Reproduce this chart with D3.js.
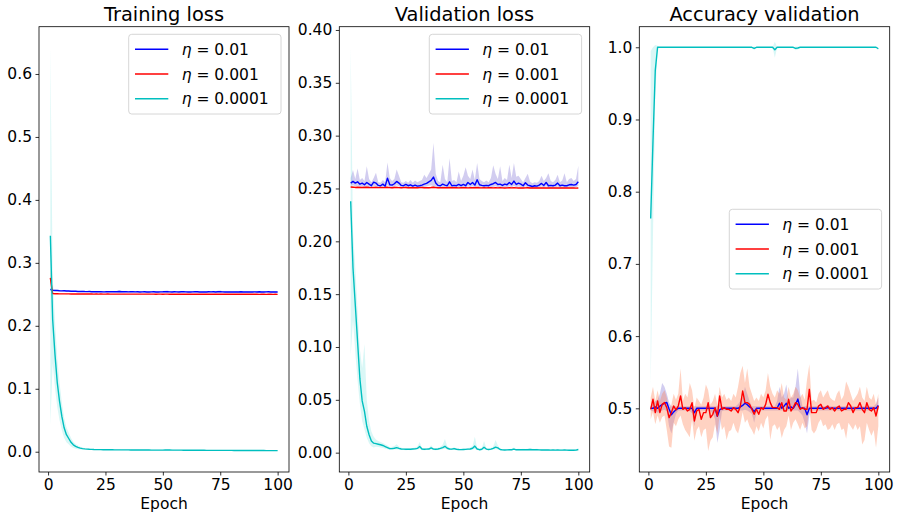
<!DOCTYPE html>
<html>
<head>
<meta charset="utf-8">
<script src="https://cdn.jsdelivr.net/npm/d3@7"></script>
<style>
  body { margin: 0; background: #fff; }
  text { font-family: "DejaVu Sans", sans-serif; fill: #000; }
</style>
</head>
<body>
<div id="chart"></div>
<script>
// epochs on the x axis
let epochs = d3.range(1, 101);
let xTicks = [0, 25, 50, 75, 100];
let labels = ['0.01', '0.001', '0.0001'];

// ---------- Training loss ----------
let trainBlue = [0.2580,0.2565,0.2562,0.2560,0.2557,0.2555,0.2556,0.2553,0.2552,0.2550,
  0.2548,0.2549,0.2546,0.2545,0.2547,0.2544,0.2543,0.2545,0.2542,0.2541,
  0.2543,0.2540,0.2541,0.2539,0.2540,0.2542,0.2541,0.2543,0.2540,0.2542,
  0.2545,0.2541,0.2540,0.2542,0.2539,0.2540,0.2541,0.2539,0.2540,0.2538,
  0.2539,0.2540,0.2538,0.2537,0.2539,0.2541,0.2538,0.2537,0.2539,0.2540,
  0.2543,0.2541,0.2539,0.2538,0.2540,0.2539,0.2538,0.2540,0.2541,0.2539,
  0.2538,0.2537,0.2539,0.2541,0.2540,0.2538,0.2537,0.2539,0.2538,0.2540,
  0.2539,0.2541,0.2538,0.2540,0.2542,0.2539,0.2538,0.2537,0.2539,0.2538,
  0.2537,0.2539,0.2538,0.2540,0.2538,0.2537,0.2539,0.2538,0.2537,0.2539,
  0.2538,0.2540,0.2538,0.2537,0.2539,0.2540,0.2538,0.2539,0.2537,0.2538];
let trainBlueSd = [0.0020,0.0012,0.0011,0.0010,0.0010,0.0009,0.0010,0.0009,0.0008,0.0008,
  0.0008,0.0009,0.0008,0.0008,0.0009,0.0008,0.0008,0.0009,0.0008,0.0008,
  0.0009,0.0008,0.0008,0.0008,0.0009,0.0009,0.0008,0.0010,0.0009,0.0011,
  0.0018,0.0014,0.0009,0.0009,0.0008,0.0009,0.0008,0.0008,0.0009,0.0008,
  0.0008,0.0009,0.0008,0.0008,0.0009,0.0010,0.0008,0.0008,0.0009,0.0010,
  0.0013,0.0019,0.0010,0.0008,0.0009,0.0008,0.0008,0.0009,0.0010,0.0008,
  0.0008,0.0008,0.0009,0.0010,0.0009,0.0008,0.0008,0.0009,0.0008,0.0010,
  0.0012,0.0013,0.0009,0.0015,0.0020,0.0011,0.0008,0.0008,0.0009,0.0008,
  0.0008,0.0009,0.0008,0.0009,0.0008,0.0008,0.0009,0.0008,0.0008,0.0009,
  0.0008,0.0009,0.0008,0.0008,0.0009,0.0009,0.0008,0.0009,0.0008,0.0008];
let trainRed = [0.2760,0.2512,0.2510,0.2509,0.2508,0.2508,0.2507,0.2507,0.2507,0.2506,
  0.2506,0.2506,0.2506,0.2505,0.2506,0.2505,0.2505,0.2505,0.2505,0.2504,
  0.2505,0.2504,0.2505,0.2504,0.2504,0.2505,0.2504,0.2504,0.2503,0.2504,
  0.2504,0.2503,0.2504,0.2504,0.2503,0.2504,0.2503,0.2504,0.2503,0.2503,
  0.2504,0.2503,0.2503,0.2504,0.2503,0.2503,0.2502,0.2503,0.2503,0.2502,
  0.2503,0.2503,0.2502,0.2503,0.2502,0.2503,0.2502,0.2502,0.2503,0.2502,
  0.2502,0.2503,0.2502,0.2502,0.2502,0.2503,0.2502,0.2502,0.2501,0.2502,
  0.2502,0.2501,0.2502,0.2502,0.2501,0.2502,0.2501,0.2502,0.2501,0.2501,
  0.2502,0.2501,0.2501,0.2502,0.2501,0.2501,0.2501,0.2502,0.2501,0.2501,
  0.2501,0.2500,0.2501,0.2501,0.2500,0.2501,0.2501,0.2500,0.2501,0.2500];
let trainRedSd = [0.0140,0.0006,0.0005,0.0004,0.0004,0.0004,0.0003,0.0004,0.0003,0.0003,
  0.0003,0.0004,0.0003,0.0003,0.0003,0.0004,0.0003,0.0003,0.0003,0.0003,
  0.0004,0.0003,0.0003,0.0003,0.0003,0.0004,0.0003,0.0003,0.0003,0.0003,
  0.0003,0.0003,0.0004,0.0003,0.0003,0.0003,0.0003,0.0003,0.0004,0.0003,
  0.0003,0.0003,0.0003,0.0004,0.0003,0.0003,0.0003,0.0003,0.0003,0.0004,
  0.0003,0.0003,0.0003,0.0003,0.0003,0.0004,0.0003,0.0003,0.0003,0.0003,
  0.0003,0.0003,0.0004,0.0003,0.0003,0.0003,0.0003,0.0003,0.0003,0.0004,
  0.0003,0.0003,0.0003,0.0003,0.0003,0.0003,0.0004,0.0003,0.0003,0.0003,
  0.0003,0.0003,0.0003,0.0004,0.0003,0.0003,0.0003,0.0003,0.0003,0.0003,
  0.0004,0.0003,0.0003,0.0003,0.0003,0.0003,0.0003,0.0004,0.0003,0.0003];
let trainCyan = [0.3430,0.2100,0.1550,0.1100,0.0800,0.0560,0.0380,0.0270,0.0210,0.0150,
  0.0110,0.0085,0.0068,0.0057,0.0050,0.0045,0.0042,0.0039,0.0037,0.0035,
  0.0034,0.0033,0.0033,0.0032,0.0032,0.0031,0.0031,0.0031,0.0030,0.0030,
  0.0030,0.0029,0.0029,0.0029,0.0029,0.0028,0.0028,0.0028,0.0028,0.0027,
  0.0027,0.0027,0.0027,0.0027,0.0026,0.0026,0.0026,0.0026,0.0026,0.0026,
  0.0027,0.0028,0.0027,0.0026,0.0025,0.0025,0.0025,0.0025,0.0024,0.0024,
  0.0024,0.0024,0.0024,0.0023,0.0023,0.0023,0.0023,0.0023,0.0022,0.0022,
  0.0022,0.0022,0.0022,0.0022,0.0021,0.0021,0.0021,0.0021,0.0021,0.0021,
  0.0020,0.0020,0.0020,0.0020,0.0020,0.0020,0.0020,0.0019,0.0019,0.0019,
  0.0019,0.0019,0.0019,0.0019,0.0018,0.0018,0.0018,0.0018,0.0018,0.0018];
let trainCyanSd = [0.3000,0.0700,0.0530,0.0390,0.0300,0.0220,0.0160,0.0120,0.0090,0.0070,
  0.0050,0.0038,0.0030,0.0022,0.0016,0.0012,0.0009,0.0007,0.0006,0.0005,
  0.0005,0.0004,0.0004,0.0004,0.0004,0.0004,0.0004,0.0004,0.0004,0.0004,
  0.0004,0.0004,0.0004,0.0004,0.0004,0.0004,0.0004,0.0004,0.0004,0.0004,
  0.0004,0.0004,0.0004,0.0004,0.0004,0.0004,0.0004,0.0004,0.0004,0.0004,
  0.0005,0.0006,0.0005,0.0004,0.0004,0.0004,0.0004,0.0004,0.0003,0.0003,
  0.0003,0.0003,0.0003,0.0003,0.0003,0.0003,0.0003,0.0003,0.0003,0.0003,
  0.0003,0.0003,0.0003,0.0003,0.0003,0.0003,0.0003,0.0003,0.0003,0.0003,
  0.0003,0.0003,0.0003,0.0003,0.0003,0.0003,0.0003,0.0003,0.0003,0.0003,
  0.0003,0.0003,0.0003,0.0003,0.0003,0.0003,0.0003,0.0003,0.0003,0.0003];

// ---------- Validation loss ----------
let valBlue = [0.2551,0.2567,0.2551,0.2563,0.2541,0.2551,0.2535,0.2557,0.2541,0.2526,
  0.2560,0.2551,0.2529,0.2526,0.2541,0.2522,0.2598,0.2535,0.2532,0.2545,
  0.2567,0.2551,0.2529,0.2526,0.2538,0.2526,0.2535,0.2522,0.2532,0.2522,
  0.2526,0.2532,0.2541,0.2548,0.2563,0.2576,0.2608,0.2551,0.2529,0.2526,
  0.2541,0.2532,0.2526,0.2563,0.2526,0.2529,0.2526,0.2538,0.2526,0.2538,
  0.2526,0.2557,0.2538,0.2557,0.2532,0.2582,0.2535,0.2529,0.2526,0.2529,
  0.2526,0.2538,0.2545,0.2557,0.2538,0.2541,0.2529,0.2541,0.2535,0.2557,
  0.2538,0.2570,0.2538,0.2551,0.2541,0.2526,0.2554,0.2532,0.2526,0.2519,
  0.2526,0.2522,0.2532,0.2548,0.2529,0.2557,0.2526,0.2529,0.2526,0.2532,
  0.2551,0.2526,0.2532,0.2526,0.2526,0.2535,0.2538,0.2532,0.2538,0.2563];
let valBlueLo = [0.2525,0.2530,0.2520,0.2525,0.2515,0.2520,0.2510,0.2520,0.2512,0.2508,
  0.2525,0.2515,0.2508,0.2506,0.2515,0.2505,0.2530,0.2510,0.2510,0.2515,
  0.2530,0.2520,0.2508,0.2506,0.2512,0.2506,0.2510,0.2505,0.2510,0.2505,
  0.2506,0.2510,0.2515,0.2518,0.2525,0.2530,0.2520,0.2515,0.2508,0.2506,
  0.2512,0.2510,0.2506,0.2520,0.2506,0.2508,0.2506,0.2512,0.2506,0.2512,
  0.2506,0.2520,0.2512,0.2520,0.2510,0.2525,0.2510,0.2508,0.2506,0.2508,
  0.2506,0.2512,0.2515,0.2520,0.2512,0.2515,0.2508,0.2515,0.2510,0.2520,
  0.2512,0.2525,0.2512,0.2518,0.2515,0.2506,0.2520,0.2510,0.2506,0.2504,
  0.2506,0.2505,0.2510,0.2518,0.2508,0.2520,0.2506,0.2508,0.2506,0.2510,
  0.2518,0.2506,0.2510,0.2506,0.2506,0.2512,0.2512,0.2510,0.2512,0.2525];
let valBlueHi = [0.2600,0.2675,0.2590,0.2690,0.2580,0.2600,0.2570,0.2710,0.2590,0.2560,
  0.2600,0.2650,0.2560,0.2555,0.2580,0.2560,0.2745,0.2600,0.2570,0.2590,
  0.2680,0.2620,0.2560,0.2555,0.2570,0.2555,0.2580,0.2555,0.2575,0.2560,
  0.2570,0.2580,0.2630,0.2600,0.2640,0.2680,0.2930,0.2640,0.2570,0.2560,
  0.2725,0.2590,0.2560,0.2785,0.2570,0.2580,0.2560,0.2660,0.2570,0.2620,
  0.2700,0.2620,0.2590,0.2680,0.2580,0.2740,0.2590,0.2570,0.2560,0.2575,
  0.2560,0.2600,0.2720,0.2640,0.2590,0.2710,0.2570,0.2600,0.2580,0.2725,
  0.2600,0.2740,0.2610,0.2620,0.2590,0.2560,0.2600,0.2640,0.2565,0.2550,
  0.2560,0.2555,0.2570,0.2620,0.2570,0.2600,0.2645,0.2570,0.2560,0.2580,
  0.2630,0.2560,0.2575,0.2645,0.2560,0.2590,0.2600,0.2570,0.2590,0.2715];
let valRed = [0.2514,0.2512,0.2510,0.2511,0.2510,0.2509,0.2510,0.2511,0.2509,0.2508,
  0.2509,0.2510,0.2508,0.2509,0.2508,0.2509,0.2511,0.2508,0.2507,0.2509,
  0.2510,0.2508,0.2507,0.2508,0.2509,0.2507,0.2508,0.2507,0.2508,0.2507,
  0.2508,0.2509,0.2507,0.2508,0.2507,0.2509,0.2512,0.2508,0.2507,0.2508,
  0.2507,0.2508,0.2507,0.2509,0.2507,0.2508,0.2507,0.2506,0.2507,0.2508,
  0.2507,0.2506,0.2507,0.2508,0.2507,0.2509,0.2507,0.2506,0.2507,0.2506,
  0.2507,0.2508,0.2506,0.2507,0.2506,0.2507,0.2506,0.2505,0.2506,0.2507,
  0.2506,0.2507,0.2506,0.2505,0.2506,0.2505,0.2506,0.2507,0.2505,0.2506,
  0.2505,0.2506,0.2505,0.2506,0.2505,0.2504,0.2505,0.2506,0.2505,0.2504,
  0.2505,0.2504,0.2505,0.2504,0.2505,0.2504,0.2505,0.2504,0.2503,0.2504];
let valRedSd = [0.0010,0.0008,0.0007,0.0008,0.0007,0.0007,0.0008,0.0009,0.0007,0.0006,
  0.0007,0.0008,0.0006,0.0007,0.0006,0.0007,0.0009,0.0006,0.0006,0.0007,
  0.0008,0.0006,0.0006,0.0006,0.0007,0.0006,0.0006,0.0006,0.0007,0.0006,
  0.0006,0.0007,0.0006,0.0006,0.0006,0.0007,0.0010,0.0006,0.0006,0.0006,
  0.0006,0.0007,0.0006,0.0007,0.0006,0.0006,0.0006,0.0005,0.0006,0.0006,
  0.0006,0.0005,0.0006,0.0007,0.0006,0.0007,0.0006,0.0005,0.0006,0.0005,
  0.0006,0.0007,0.0005,0.0006,0.0005,0.0006,0.0005,0.0005,0.0005,0.0006,
  0.0005,0.0006,0.0005,0.0005,0.0005,0.0005,0.0005,0.0006,0.0005,0.0005,
  0.0005,0.0005,0.0005,0.0005,0.0005,0.0004,0.0005,0.0005,0.0005,0.0004,
  0.0005,0.0004,0.0005,0.0004,0.0005,0.0004,0.0005,0.0004,0.0004,0.0004];
let valCyan = [0.2380,0.1750,0.1400,0.1050,0.0700,0.0490,0.0390,0.0250,0.0170,0.0110,
  0.0090,0.0085,0.0080,0.0075,0.0068,0.0058,0.0048,0.0038,0.0038,0.0042,
  0.0048,0.0040,0.0035,0.0033,0.0032,0.0033,0.0032,0.0034,0.0036,0.0040,
  0.0058,0.0035,0.0032,0.0033,0.0034,0.0045,0.0033,0.0032,0.0035,0.0040,
  0.0048,0.0060,0.0042,0.0035,0.0033,0.0038,0.0032,0.0030,0.0029,0.0030,
  0.0031,0.0033,0.0035,0.0042,0.0062,0.0035,0.0028,0.0032,0.0052,0.0034,
  0.0030,0.0033,0.0040,0.0052,0.0045,0.0030,0.0026,0.0025,0.0026,0.0027,
  0.0028,0.0034,0.0027,0.0028,0.0027,0.0028,0.0027,0.0028,0.0030,0.0028,
  0.0027,0.0028,0.0026,0.0025,0.0026,0.0025,0.0025,0.0024,0.0025,0.0024,
  0.0025,0.0024,0.0024,0.0025,0.0024,0.0023,0.0024,0.0023,0.0024,0.0030];
let valCyanLo = [0.0920,0.1250,0.0950,0.0680,0.0460,0.0300,0.0220,0.0140,0.0090,0.0060,
  0.0050,0.0055,0.0054,0.0050,0.0045,0.0038,0.0032,0.0026,0.0027,0.0029,
  0.0030,0.0028,0.0026,0.0025,0.0024,0.0025,0.0024,0.0025,0.0026,0.0028,
  0.0035,0.0026,0.0024,0.0025,0.0025,0.0030,0.0025,0.0024,0.0026,0.0028,
  0.0032,0.0036,0.0030,0.0026,0.0025,0.0027,0.0024,0.0023,0.0022,0.0023,
  0.0023,0.0025,0.0026,0.0030,0.0035,0.0026,0.0021,0.0024,0.0033,0.0025,
  0.0023,0.0025,0.0028,0.0032,0.0030,0.0023,0.0020,0.0019,0.0020,0.0021,
  0.0021,0.0025,0.0021,0.0021,0.0021,0.0021,0.0021,0.0021,0.0023,0.0021,
  0.0021,0.0021,0.0020,0.0019,0.0020,0.0019,0.0019,0.0018,0.0019,0.0018,
  0.0019,0.0018,0.0018,0.0019,0.0018,0.0017,0.0018,0.0017,0.0018,0.0022];
let valCyanHi = [0.3840,0.2100,0.1750,0.1350,0.0980,0.0800,0.1030,0.0500,0.0300,0.0200,
  0.0150,0.0125,0.0110,0.0100,0.0092,0.0080,0.0068,0.0052,0.0055,0.0062,
  0.0080,0.0058,0.0046,0.0042,0.0040,0.0042,0.0040,0.0045,0.0050,0.0058,
  0.0100,0.0046,0.0040,0.0042,0.0045,0.0070,0.0042,0.0040,0.0046,0.0056,
  0.0075,0.0130,0.0060,0.0045,0.0042,0.0052,0.0040,0.0038,0.0036,0.0038,
  0.0040,0.0044,0.0048,0.0062,0.0150,0.0046,0.0036,0.0042,0.0110,0.0045,
  0.0038,0.0043,0.0058,0.0120,0.0070,0.0038,0.0033,0.0032,0.0033,0.0034,
  0.0036,0.0050,0.0034,0.0036,0.0034,0.0036,0.0034,0.0036,0.0040,0.0036,
  0.0034,0.0036,0.0033,0.0032,0.0033,0.0032,0.0032,0.0031,0.0032,0.0031,
  0.0032,0.0031,0.0031,0.0032,0.0031,0.0030,0.0031,0.0030,0.0031,0.0040];

// ---------- Accuracy validation ----------
let accBlue = [0.500,0.500,0.502,0.500,0.503,0.505,0.507,0.508,0.499,0.491,
  0.495,0.498,0.500,0.500,0.500,0.500,0.500,0.500,0.500,0.494,
  0.500,0.500,0.500,0.500,0.500,0.500,0.500,0.500,0.500,0.489,
  0.498,0.500,0.500,0.500,0.500,0.500,0.500,0.500,0.500,0.502,
  0.504,0.507,0.505,0.502,0.500,0.495,0.500,0.500,0.500,0.500,
  0.500,0.500,0.500,0.500,0.500,0.500,0.507,0.500,0.503,0.507,
  0.500,0.502,0.500,0.505,0.513,0.500,0.500,0.500,0.491,0.500,
  0.500,0.500,0.500,0.500,0.500,0.500,0.500,0.501,0.500,0.500,
  0.500,0.500,0.500,0.500,0.500,0.500,0.500,0.500,0.500,0.500,
  0.500,0.500,0.500,0.500,0.500,0.500,0.500,0.500,0.500,0.504];
let accBlueLo = [0.497,0.496,0.495,0.494,0.495,0.497,0.498,0.496,0.475,0.465,
  0.480,0.492,0.497,0.497,0.497,0.497,0.497,0.496,0.493,0.475,
  0.497,0.497,0.497,0.497,0.497,0.497,0.496,0.493,0.485,0.452,
  0.470,0.496,0.497,0.497,0.497,0.497,0.497,0.497,0.497,0.497,
  0.497,0.498,0.497,0.495,0.492,0.480,0.494,0.497,0.497,0.497,
  0.497,0.497,0.497,0.497,0.497,0.497,0.497,0.497,0.497,0.497,
  0.497,0.497,0.497,0.497,0.497,0.494,0.490,0.480,0.465,0.490,
  0.497,0.497,0.497,0.497,0.497,0.497,0.497,0.497,0.497,0.497,
  0.497,0.497,0.497,0.497,0.497,0.497,0.497,0.497,0.497,0.497,
  0.497,0.497,0.497,0.497,0.497,0.497,0.497,0.497,0.497,0.497];
let accBlueHi = [0.503,0.506,0.510,0.512,0.520,0.535,0.530,0.520,0.508,0.503,
  0.503,0.503,0.503,0.503,0.503,0.503,0.503,0.503,0.503,0.503,
  0.503,0.503,0.503,0.503,0.503,0.503,0.503,0.503,0.503,0.503,
  0.505,0.503,0.503,0.503,0.503,0.503,0.503,0.503,0.506,0.510,
  0.515,0.530,0.520,0.510,0.503,0.503,0.503,0.503,0.503,0.503,
  0.503,0.503,0.503,0.503,0.503,0.510,0.530,0.515,0.520,0.533,
  0.510,0.515,0.515,0.530,0.555,0.520,0.503,0.503,0.503,0.503,
  0.503,0.503,0.503,0.503,0.503,0.503,0.503,0.505,0.503,0.503,
  0.503,0.503,0.503,0.503,0.503,0.503,0.503,0.503,0.503,0.503,
  0.503,0.503,0.503,0.503,0.503,0.503,0.503,0.503,0.506,0.515];
let accRed = [0.4986,0.5125,0.4940,0.5102,0.4940,0.5055,0.5079,0.5009,0.4871,0.4940,
  0.5032,0.4977,0.5032,0.5171,0.4986,0.5009,0.4963,0.4986,0.5079,0.4824,
  0.4963,0.4986,0.4848,0.4940,0.4940,0.5079,0.4871,0.4917,0.5009,0.4894,
  0.5171,0.4986,0.5009,0.4986,0.4986,0.4963,0.5009,0.4986,0.4940,0.5032,
  0.5240,0.5079,0.5079,0.5055,0.4986,0.4917,0.4986,0.4917,0.5009,0.4986,
  0.5055,0.5194,0.5079,0.5009,0.5009,0.5009,0.4986,0.5079,0.4963,0.4963,
  0.5125,0.4963,0.5009,0.5079,0.5055,0.4986,0.5009,0.4986,0.4986,0.5263,
  0.4940,0.4940,0.4940,0.5032,0.5055,0.4986,0.5009,0.5032,0.4986,0.5009,
  0.4963,0.5009,0.5032,0.4963,0.4986,0.4986,0.5079,0.5032,0.4940,0.5009,
  0.5009,0.5079,0.4986,0.4940,0.5079,0.4986,0.4963,0.5009,0.4894,0.5032];
let accRedLo = [0.485,0.495,0.478,0.490,0.480,0.488,0.490,0.470,0.447,0.4455,
  0.480,0.475,0.485,0.490,0.478,0.470,0.465,0.460,0.485,0.455,
  0.470,0.475,0.460,0.470,0.472,0.441,0.455,0.460,0.478,0.465,
  0.490,0.470,0.475,0.456,0.468,0.470,0.480,0.470,0.465,0.478,
  0.495,0.480,0.485,0.475,0.470,0.463,0.475,0.468,0.480,0.472,
  0.485,0.490,0.456,0.475,0.478,0.470,0.475,0.459,0.470,0.475,
  0.490,0.470,0.480,0.485,0.478,0.470,0.480,0.472,0.475,0.500,
  0.470,0.465,0.470,0.480,0.485,0.475,0.478,0.470,0.472,0.478,
  0.470,0.478,0.480,0.470,0.472,0.458,0.480,0.475,0.470,0.478,
  0.470,0.475,0.450,0.456,0.480,0.470,0.462,0.470,0.4455,0.475];
let accRedHi = [0.515,0.530,0.510,0.525,0.510,0.520,0.525,0.515,0.500,0.505,
  0.520,0.512,0.520,0.555,0.510,0.520,0.515,0.535,0.525,0.500,
  0.515,0.510,0.505,0.515,0.533,0.525,0.505,0.510,0.520,0.505,
  0.530,0.515,0.520,0.512,0.515,0.510,0.520,0.515,0.530,0.549,
  0.559,0.535,0.555,0.530,0.520,0.510,0.515,0.510,0.520,0.515,
  0.525,0.549,0.530,0.520,0.515,0.525,0.520,0.535,0.515,0.512,
  0.530,0.515,0.520,0.530,0.525,0.515,0.520,0.512,0.540,0.561,
  0.510,0.512,0.508,0.520,0.525,0.515,0.520,0.525,0.515,0.512,
  0.510,0.520,0.525,0.512,0.518,0.537,0.530,0.520,0.510,0.515,
  0.520,0.530,0.515,0.510,0.530,0.515,0.512,0.520,0.505,0.520];
let accCyan = [0.763,0.870,0.968,1.000,1.000,1.000,1.000,1.000,1.000,1.000,
  1.000,1.000,1.000,1.000,1.000,1.000,1.000,1.000,1.000,1.000,
  1.000,1.000,1.000,1.000,1.000,1.000,1.000,1.000,1.000,1.000,
  1.000,1.000,1.000,1.000,1.000,1.000,1.000,1.000,1.000,1.000,
  1.000,1.000,1.000,1.000,1.000,0.9985,1.000,1.000,1.000,1.000,
  1.000,1.000,1.000,1.000,0.9965,1.000,1.000,1.000,1.000,1.000,
  1.000,1.000,1.000,0.9985,0.9990,1.000,1.000,1.000,1.000,1.000,
  1.000,1.000,1.000,1.000,1.000,1.000,1.000,1.000,1.000,1.000,
  1.000,1.000,1.000,1.000,1.000,1.000,1.000,1.000,1.000,1.000,
  1.000,1.000,1.000,1.000,1.000,1.000,1.000,1.000,1.000,0.998];
let accCyanSd = [0.232,0.130,0.035,0.002,0,0,0,0,0,0,
  0,0,0,0,0,0,0,0,0,0,
  0,0,0,0,0,0,0,0,0,0,
  0,0,0,0,0,0,0,0,0,0,
  0,0,0,0,0,0.0025,0,0,0,0,
  0,0,0,0,0.011,0,0,0,0,0,
  0,0,0,0.0025,0.002,0,0,0,0,0,
  0,0,0,0,0,0,0,0,0,0,
  0,0,0,0,0,0,0,0,0,0,
  0,0,0,0,0,0,0,0,0,0.002];

// colours: blue, red, cyan
let lineColors = ['#0000ff', '#ff0000', '#00bfbf'];
let bandColors = ['#6a5acd', '#ff7f50', '#40d8d0'];
let bandOpacity = [0.3, 0.35, 0.2];

// panel layout in pixels
let top_y = 26.7, bottom_y = 472;
let panels = [
  {title: 'Training loss', left: 39, right: 289,
   yDomain: [-0.0322, 0.6751], yTicks: [0, 0.1, 0.2, 0.3, 0.4, 0.5, 0.6], fmt: '.1f',
   legend: [128.7, 34.3],
   series: [
     {mean: trainBlue, sd: trainBlueSd},
     {mean: trainRed, sd: trainRedSd},
     {mean: trainCyan, sd: trainCyanSd}]},
  {title: 'Validation loss', left: 339.3, right: 589.7,
   yDomain: [-0.0183, 0.4031], yTicks: [0, 0.05, 0.1, 0.15, 0.2, 0.25, 0.3, 0.35, 0.4], fmt: '.2f',
   legend: [429.3, 34.3],
   series: [
     {mean: valBlue, lo: valBlueLo, hi: valBlueHi},
     {mean: valRed, sd: valRedSd},
     {mean: valCyan, lo: valCyanLo, hi: valCyanHi}]},
  {title: 'Accuracy validation', left: 639.3, right: 889.7,
   yDomain: [0.4118, 1.0285], yTicks: [0.5, 0.6, 0.7, 0.8, 0.9, 1.0], fmt: '.1f',
   legend: [729.3, 209.3],
   series: [
     {mean: accBlue, lo: accBlueLo, hi: accBlueHi},
     {mean: accRed, lo: accRedLo, hi: accRedHi},
     {mean: accCyan, sd: accCyanSd}]}
];

let svg = d3.select('#chart').append('svg')
  .attr('width', 899)
  .attr('height', 512);

panels.forEach(function(p, pi) {
  let x = d3.scaleLinear().domain([-3.95, 104.95]).range([p.left, p.right]);
  let y = d3.scaleLinear().domain(p.yDomain).range([bottom_y, top_y]);

  // clip to the axes box
  svg.append('clipPath').attr('id', 'clip' + pi)
    .append('rect')
    .attr('x', p.left).attr('y', top_y)
    .attr('width', p.right - p.left).attr('height', bottom_y - top_y);

  let plot = svg.append('g').attr('clip-path', `url(#clip${pi})`);

  // build band rows
  let rows = p.series.map(function(s) {
    return epochs.map(function(e, i) {
      let lo = s.lo ? s.lo[i] : s.mean[i] - s.sd[i];
      let hi = s.hi ? s.hi[i] : s.mean[i] + s.sd[i];
      return {e: e, m: s.mean[i], lo: lo, hi: hi};
    });
  });

  let area = d3.area().x(d => x(d.e)).y0(d => y(d.lo)).y1(d => y(d.hi));
  let line = d3.line().x(d => x(d.e)).y(d => y(d.m));

  // fills sit under all lines (like matplotlib zorder)
  rows.forEach(function(r, k) {
    plot.append('path').datum(r)
      .attr('d', area)
      .attr('fill', bandColors[k])
      .attr('fill-opacity', bandOpacity[k])
      .attr('stroke', 'none');
  });
  rows.forEach(function(r, k) {
    plot.append('path').datum(r)
      .attr('d', line)
      .attr('fill', 'none')
      .attr('stroke', lineColors[k])
      .attr('stroke-width', 1.4)
      .attr('stroke-linejoin', 'round');
  });

  // axes
  let xAxis = svg.append('g')
    .attr('transform', `translate(0, ${bottom_y})`)
    .call(d3.axisBottom(x).tickValues(xTicks).tickSize(3.5).tickPadding(3.5).tickFormat(d3.format('d')));
  let yAxis = svg.append('g')
    .attr('transform', `translate(${p.left}, 0)`)
    .call(d3.axisLeft(y).tickValues(p.yTicks).tickSize(3.5).tickPadding(3.5).tickFormat(d3.format(p.fmt)));

  [xAxis, yAxis].forEach(function(a) {
    a.select('.domain').remove();
    a.selectAll('.tick line').attr('stroke', '#000').attr('stroke-width', 0.8);
    a.selectAll('.tick text')
      .attr('font-family', '"DejaVu Sans", sans-serif')
      .attr('font-size', '15.5px')
      .attr('fill', '#000');
  });
  xAxis.selectAll('.tick text').attr('dy', '0.73em');

  // frame
  svg.append('rect')
    .attr('x', p.left).attr('y', top_y)
    .attr('width', p.right - p.left).attr('height', bottom_y - top_y)
    .attr('fill', 'none')
    .attr('stroke', '#000')
    .attr('stroke-width', 0.8);

  // title and x label
  svg.append('text')
    .attr('x', (p.left + p.right) / 2)
    .attr('y', 20.5)
    .attr('text-anchor', 'middle')
    .attr('font-size', '19.4px')
    .text(p.title);

  svg.append('text')
    .attr('x', (p.left + p.right) / 2)
    .attr('y', 508.5)
    .attr('text-anchor', 'middle')
    .attr('font-size', '15.5px')
    .text('Epoch');

  // legend
  let lg = svg.append('g').attr('transform', `translate(${p.legend[0]}, ${p.legend[1]})`);
  lg.append('rect')
    .attr('width', 152.3).attr('height', 79.7)
    .attr('rx', 3).attr('ry', 3)
    .attr('fill', '#fff').attr('fill-opacity', 0.8)
    .attr('stroke', '#cccccc').attr('stroke-width', 0.8);
  labels.forEach(function(lab, k) {
    let ly = 15 + k * 24.7;
    lg.append('line')
      .attr('x1', 6.3).attr('x2', 39.6)
      .attr('y1', ly).attr('y2', ly)
      .attr('stroke', lineColors[k])
      .attr('stroke-width', 1.4);
    let t = lg.append('text')
      .attr('x', 53).attr('y', ly + 5.6)
      .attr('font-size', '15.5px');
    t.append('tspan').attr('font-style', 'italic').text('η');
    t.append('tspan').text(' = ' + lab);
  });
});
</script>
</body>
</html>
